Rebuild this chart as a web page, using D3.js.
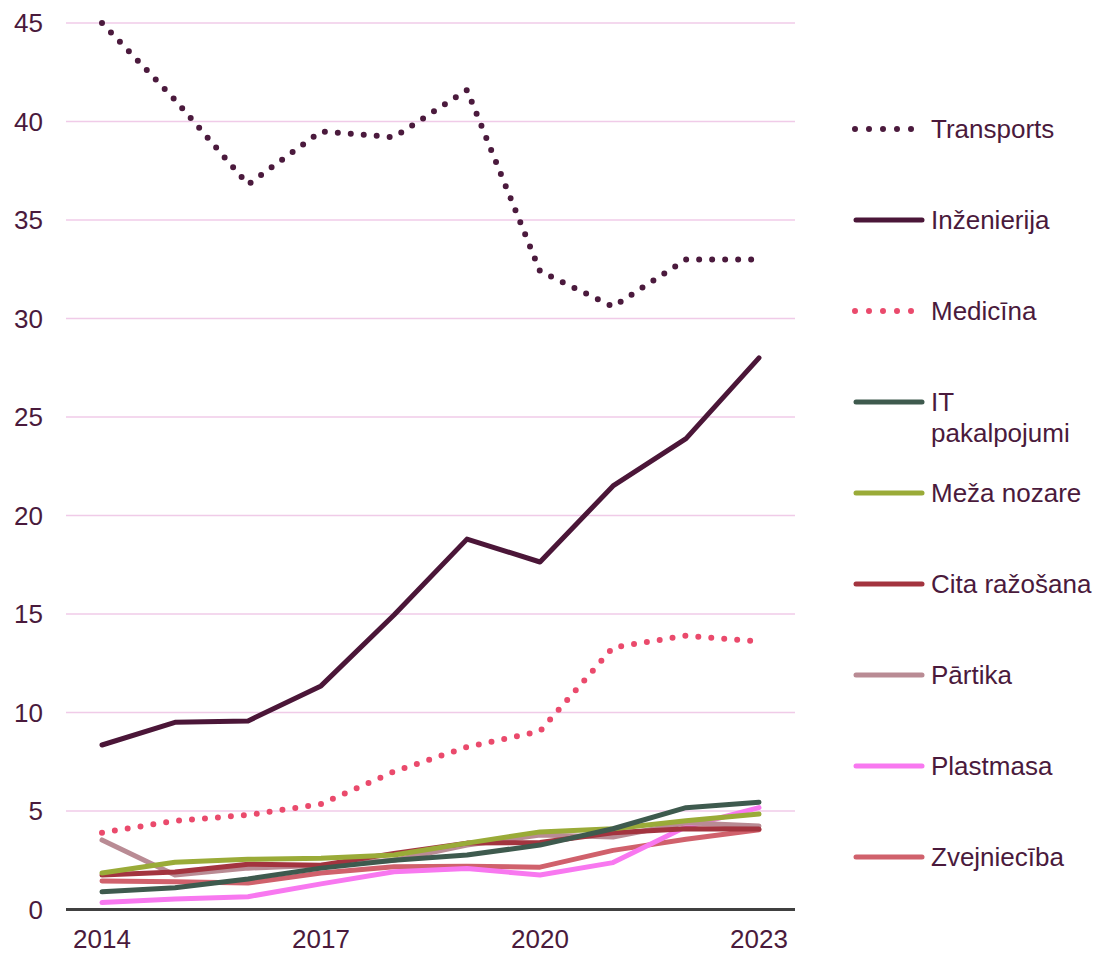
<!DOCTYPE html>
<html lang="lv">
<head>
  <meta charset="UTF-8" />
  <title>Nozares</title>
  <script src="https://d3js.org/d3.v7.min.js"></script>
  <style>
    body { margin: 0; background: #fff; }
    text { font-family: "Liberation Sans", Arial, sans-serif; fill: #4a1a3c; }
  </style>
</head>
<body>
  <svg width="1097" height="954"></svg>

  <script>
    const years = [2014, 2015, 2016, 2017, 2018, 2019, 2020, 2021, 2022, 2023];
    const yearTicks = [2014, 2017, 2020, 2023];
    const valueTicks = [0, 5, 10, 15, 20, 25, 30, 35, 40, 45];

    const transports   = [45, 41.1, 36.8, 39.5, 39.2, 41.6, 32.4, 30.6, 33.0, 33.0];
    const inzenierija  = [8.35, 9.5, 9.57, 11.35, 14.95, 18.8, 17.64, 21.5, 23.9, 28.0];
    const medicina     = [3.9, 4.5, 4.8, 5.35, 7.0, 8.25, 9.05, 13.3, 13.9, 13.6];
    const itPakalp     = [0.9, 1.1, 1.55, 2.1, 2.5, 2.77, 3.27, 4.1, 5.17, 5.45];
    const mezaNozare   = [1.85, 2.4, 2.55, 2.6, 2.77, 3.37, 3.94, 4.1, 4.5, 4.85];
    const citaRazosana = [1.75, 1.9, 2.3, 2.25, 2.85, 3.37, 3.4, 3.9, 4.1, 4.08];
    const partika      = [3.53, 1.75, 2.1, 2.25, 2.5, 3.27, 3.78, 3.68, 4.4, 4.24];
    const plastmasa    = [0.35, 0.53, 0.65, 1.3, 1.92, 2.08, 1.75, 2.38, 4.2, 5.17];
    const zvejnieciba  = [1.45, 1.41, 1.34, 1.85, 2.17, 2.2, 2.15, 3.0, 3.57, 4.05];

    // drawing order: bottom first
    const series = [
      { name: "Zvejniecība", values: zvejnieciba, color: "#d0616c", dotted: false },
      { name: "Plastmasa", values: plastmasa, color: "#f878f0", dotted: false },
      { name: "Pārtika", values: partika, color: "#b98b94", dotted: false },
      { name: "Cita ražošana", values: citaRazosana, color: "#a3343f", dotted: false },
      { name: "Meža nozare", values: mezaNozare, color: "#9aab38", dotted: false },
      { name: "IT\npakalpojumi", values: itPakalp, color: "#3e5a4e", dotted: false },
      { name: "Medicīna", values: medicina, color: "#ea4a6c", dotted: true },
      { name: "Inženierija", values: inzenierija, color: "#4b1638", dotted: false },
      { name: "Transports", values: transports, color: "#4b1a3d", dotted: true }
    ];

    const svg = d3.select("svg");

    const x = d3.scaleLinear().domain([2014, 2023]).range([102, 759]);
    const y = d3.scaleLinear().domain([0, 45]).range([909.5, 23]);
    const plotLeft = 66, plotRight = 795;

    // gridlines
    svg.append("g")
      .selectAll("line")
      .data(valueTicks.filter(d => d > 0))
      .join("line")
      .attr("x1", plotLeft)
      .attr("x2", plotRight)
      .attr("y1", d => y(d))
      .attr("y2", d => y(d))
      .attr("stroke", "#f0cbe8")
      .attr("stroke-width", 1.5);

    // y labels
    svg.append("g")
      .selectAll("text")
      .data(valueTicks)
      .join("text")
      .attr("x", 43)
      .attr("y", d => y(d))
      .attr("dy", "0.35em")
      .attr("text-anchor", "end")
      .style("font-size", "26px")
      .text(d => d);

    // x labels
    svg.append("g")
      .selectAll("text")
      .data(yearTicks)
      .join("text")
      .attr("x", d => x(d))
      .attr("y", 948)
      .attr("text-anchor", "middle")
      .style("font-size", "26px")
      .text(d => d);

    const line = d3.line()
      .x((d, i) => x(years[i]))
      .y(d => y(d));

    series.forEach(s => {
      svg.append("path")
        .datum(s.values)
        .attr("fill", "none")
        .attr("stroke", s.color)
        .attr("stroke-width", s.dotted ? 6 : 5)
        .attr("stroke-linecap", "round")
        .attr("stroke-linejoin", "round")
        .attr("stroke-dasharray", s.dotted ? "0 13" : null)
        .attr("d", line);
    });

    // x axis line
    svg.append("line")
      .attr("x1", plotLeft)
      .attr("x2", plotRight)
      .attr("y1", y(0))
      .attr("y2", y(0))
      .attr("stroke", "#404040")
      .attr("stroke-width", 3);

    // legend
    const legendOrder = series.slice().reverse();
    const legend = svg.append("g");
    legendOrder.forEach((s, i) => {
      const ly = 129 + i * 91;
      const g = legend.append("g").attr("transform", `translate(0,${ly})`);
      if (s.dotted) {
        g.append("line")
          .attr("x1", 855).attr("x2", 912)
          .attr("stroke", s.color)
          .attr("stroke-width", 6)
          .attr("stroke-linecap", "round")
          .attr("stroke-dasharray", "0 14");
      } else {
        g.append("line")
          .attr("x1", 856).attr("x2", 922)
          .attr("stroke", s.color)
          .attr("stroke-width", 5)
          .attr("stroke-linecap", "round");
      }
      const t = g.append("text")
        .attr("x", 931)
        .style("font-size", "26px");
      s.name.split("\n").forEach((part, j) => {
        t.append("tspan")
          .attr("x", 931)
          .attr("dy", j === 0 ? "0.35em" : "1.2em")
          .text(part);
      });
    });
  </script>
</body>
</html>
